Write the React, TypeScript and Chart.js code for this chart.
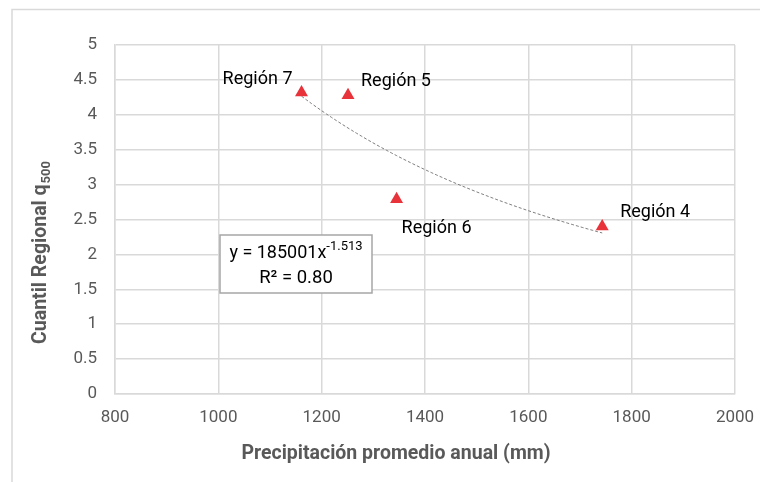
import React, { useEffect, useRef } from "react";
import { Chart, registerables } from "chart.js";

Chart.register(...registerables);

// ---- data ----
const regionLabels = ["Región 4", "Región 5", "Región 6", "Región 7"];
const precipitation = [1743, 1251, 1345, 1161];
const quantile = [2.4, 4.28, 2.79, 4.32];

const xMin = 800;
const xMax = 2000;
const xStep = 200;
const yMin = 0;
const yMax = 5;
const yStep = 0.5;

// power trendline shown on the chart: y = a * x^b
const fitCoefficient = 185001;
const fitExponent = -1.513;
const rSquaredText = "0.80";

const xTitle = "Precipitación promedio anual (mm)";
const yTitleMain = "Cuantil Regional q";
const yTitleSub = "500";

// ---- styles ----
const FONT = "Roboto";
const GRID = "#d9d9d9";
const TICK_COLOR = "#595959";
const RED = "#e8333b";

// label placement offsets (pixels, relative to the marker)
const labelOffsets: Record<string, { dx: number; dy: number; align: CanvasTextAlign }> = {
  "Región 4": { dx: 18, dy: -9, align: "left" },
  "Región 5": { dx: 13, dy: -9, align: "left" },
  "Región 6": { dx: 5, dy: 34, align: "left" },
  "Región 7": { dx: -9, dy: -8, align: "right" },
};

function trendPoints() {
  const lo = Math.min(...precipitation);
  const hi = Math.max(...precipitation);
  const pts: { x: number; y: number }[] = [];
  const n = 60;
  for (let i = 0; i <= n; i++) {
    const x = lo + ((hi - lo) * i) / n;
    pts.push({ x, y: fitCoefficient * Math.pow(x, fitExponent) });
  }
  return pts;
}

const decorPlugin = {
  id: "decor",
  beforeDraw(chart: any) {
    const ctx = chart.ctx as CanvasRenderingContext2D;
    ctx.save();
    ctx.fillStyle = "#ffffff";
    ctx.fillRect(0, 0, chart.width, chart.height);
    ctx.strokeStyle = GRID;
    ctx.lineWidth = 1.5;
    ctx.strokeRect(12, 9.5, chart.width + 20, chart.height + 20);
    ctx.restore();
  },
  afterDraw(chart: any) {
    const ctx = chart.ctx as CanvasRenderingContext2D;
    const xs = chart.scales.x;
    const ys = chart.scales.y;
    const area = chart.chartArea;
    ctx.save();

    // point labels
    ctx.fillStyle = "#000000";
    ctx.font = `18px ${FONT}`;
    ctx.textBaseline = "alphabetic";
    regionLabels.forEach((lab, i) => {
      const px = xs.getPixelForValue(precipitation[i]);
      const py = ys.getPixelForValue(quantile[i]);
      const o = labelOffsets[lab];
      ctx.textAlign = o.align;
      ctx.fillText(lab, px + o.dx, py + o.dy);
    });

    // equation box
    const bx = area.left + 105;
    const by = area.top + 190;
    const bw = 152;
    const bh = 58;
    ctx.fillStyle = "#ffffff";
    ctx.fillRect(bx, by, bw, bh);
    ctx.strokeStyle = "#a6a6a6";
    ctx.lineWidth = 1.5;
    ctx.strokeRect(bx, by, bw, bh);
    const cx = bx + bw / 2;
    ctx.fillStyle = "#000000";
    const mainTxt = `y = ${fitCoefficient}x`;
    const supTxt = `${fitExponent}`;
    ctx.font = `18px ${FONT}`;
    const mw = ctx.measureText(mainTxt).width;
    ctx.font = `13px ${FONT}`;
    const sw = ctx.measureText(supTxt).width;
    const startX = cx - (mw + sw) / 2;
    ctx.textAlign = "left";
    ctx.font = `18px ${FONT}`;
    ctx.fillText(mainTxt, startX, by + 23);
    ctx.font = `13px ${FONT}`;
    ctx.fillText(supTxt, startX + mw, by + 15);
    ctx.font = `18.5px ${FONT}`;
    ctx.textAlign = "center";
    ctx.fillText(`R² = ${rSquaredText}`, cx, by + 48);

    // axis titles
    ctx.fillStyle = TICK_COLOR;
    ctx.font = `bold 19.5px ${FONT}`;
    ctx.textAlign = "center";
    ctx.textBaseline = "middle";
    ctx.fillText(xTitle, 396, 454);

    ctx.translate(39, 253);
    ctx.rotate(-Math.PI / 2);
    ctx.font = `bold 19.5px ${FONT}`;
    const tw = ctx.measureText(yTitleMain).width;
    ctx.font = `bold 13px ${FONT}`;
    const tsw = ctx.measureText(yTitleSub).width;
    const sx = -(tw + tsw) / 2;
    ctx.textAlign = "left";
    ctx.textBaseline = "alphabetic";
    ctx.font = `bold 19.5px ${FONT}`;
    ctx.fillText(yTitleMain, sx, 7);
    ctx.font = `bold 13px ${FONT}`;
    ctx.fillText(yTitleSub, sx + tw + 1, 11);

    ctx.restore();
  },
};

export default function App() {
  const ref = useRef<HTMLCanvasElement | null>(null);

  useEffect(() => {
    document.body.style.margin = "0";
    const canvas = ref.current;
    if (!canvas) return;
    const chart = new Chart(canvas, {
      type: "scatter",
      data: {
        datasets: [
          {
            label: "Trend",
            data: trendPoints(),
            showLine: true,
            borderColor: "#7f7f7f",
            borderWidth: 1,
            borderDash: [3, 2],
            pointRadius: 0,
            fill: false,
            order: 2,
          } as any,
          {
            label: "Regiones",
            data: precipitation.map((x, i) => ({ x, y: quantile[i] })),
            pointStyle: "triangle",
            pointRadius: 7.5,
            backgroundColor: RED,
            borderColor: RED,
            borderWidth: 0,
            order: 1,
          } as any,
        ],
      },
      options: {
        animation: false,
        responsive: false,
        devicePixelRatio: 1,
        layout: { padding: { left: 0, top: 45, right: 25, bottom: 0 } },
        plugins: {
          legend: { display: false },
          tooltip: { enabled: false },
        },
        scales: {
          x: {
            type: "linear",
            min: xMin,
            max: xMax,
            afterFit: (s: any) => {
              s.height = 88;
              s.paddingLeft = 0;
              s.paddingRight = 0;
            },
            ticks: {
              stepSize: xStep,
              color: TICK_COLOR,
              font: { family: FONT, size: 17 },
              padding: 14,
              maxRotation: 0,
              callback: (v: any) => String(v),
            },
            grid: { color: GRID, lineWidth: 1.5, drawTicks: false },
            border: { color: GRID, width: 1.5 },
          },
          y: {
            type: "linear",
            min: yMin,
            max: yMax,
            afterFit: (s: any) => {
              s.width = 115;
              s.paddingTop = 0;
              s.paddingBottom = 0;
            },
            ticks: {
              stepSize: yStep,
              color: TICK_COLOR,
              font: { family: FONT, size: 17 },
              padding: 18,
              callback: (v: any) => String(v),
            },
            grid: { color: GRID, lineWidth: 1.5, drawTicks: false },
            border: { color: GRID, width: 1.5 },
          },
        },
      },
      plugins: [decorPlugin],
    });
    return () => chart.destroy();
  }, []);

  return (
    <div style={{ position: "absolute", left: 0, top: 0, width: 760, height: 482 }}>
      <canvas ref={ref} width={760} height={482} style={{ width: 760, height: 482, display: "block" }} />
    </div>
  );
}
